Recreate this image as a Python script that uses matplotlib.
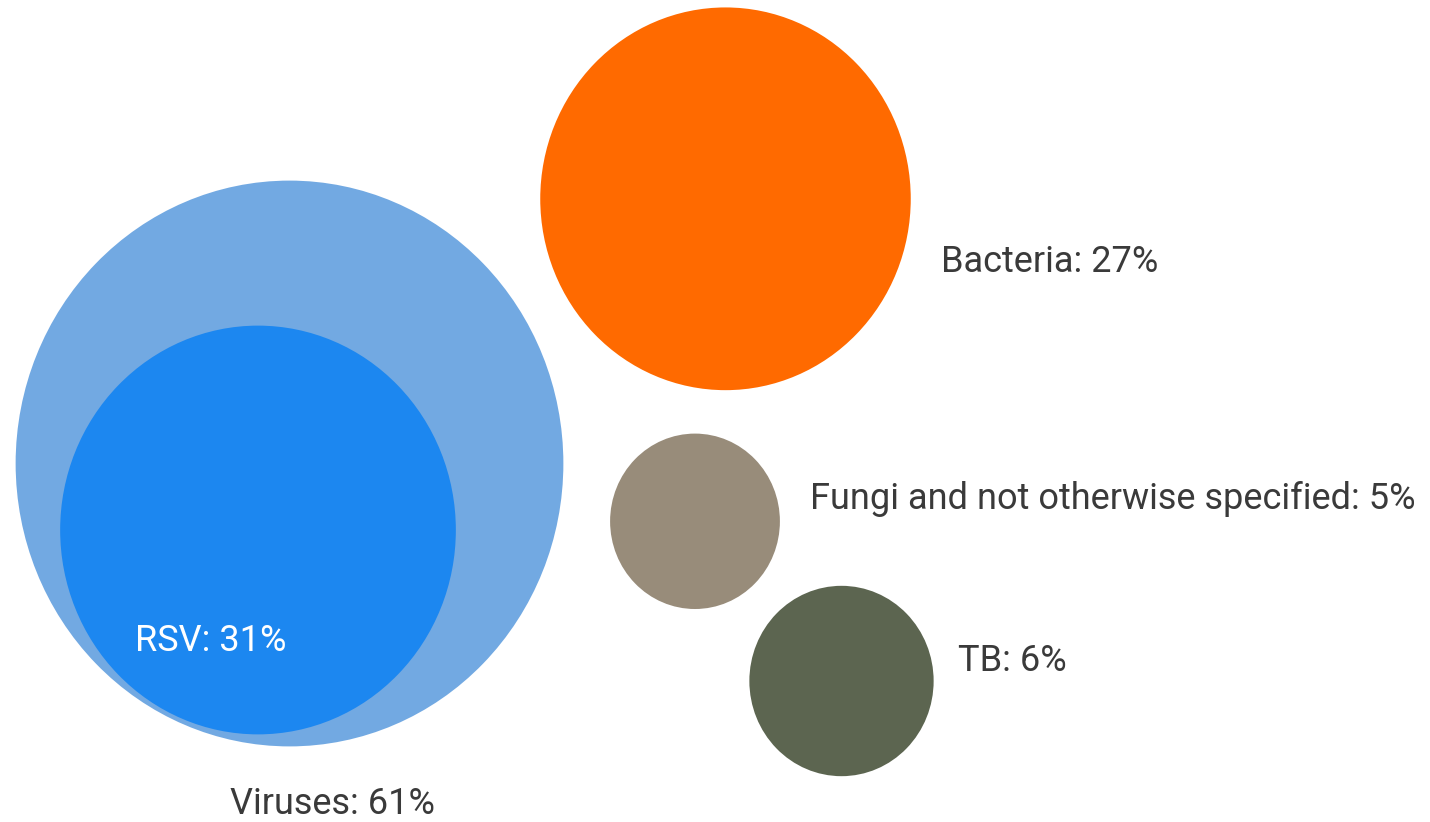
import numpy as np
import matplotlib.pyplot as plt
from matplotlib.patches import Ellipse

# data
groups = ['Viruses', 'RSV', 'Bacteria', 'Fungi and not otherwise specified', 'TB']
shares = [61, 31, 27, 5, 6]

# layout (pixel space of the 1430x822 canvas)
centers_x = [289.5, 258, 725.5, 695, 841.5]
centers_y = [463.5, 530, 198.8, 521.3, 681]
colors = ['#72a9e2', '#1c87f0', '#ff6a00', '#988c7a', '#5c6550']
label_x = [230, 135, 941, 810, 958]
label_y = [814, 651, 272, 509, 671]   # baselines
label_colors = ['#3a3a3a', '#ffffff', '#3a3a3a', '#3a3a3a', '#3a3a3a']

# radius grows with sqrt of the share, plus a small pad
scale, pad = 33.9, 9.1
stretch = 1.033   # the source image is slightly taller than wide

fig = plt.figure(figsize=(14.3, 8.22), dpi=100)
ax = fig.add_axes([0, 0, 1, 1])
ax.set_xlim(0, 1430)
ax.set_ylim(822, 0)
ax.axis('off')

for v, cx, cy, c in zip(shares, centers_x, centers_y, colors):
    r = scale * np.sqrt(v) + pad
    ax.add_patch(Ellipse((cx, cy), 2 * r, 2 * r * stretch, facecolor=c, edgecolor='none'))

for name, v, x, y, tc in zip(groups, shares, label_x, label_y, label_colors):
    ax.text(x, y, f'{name}: {v}%', ha='left', va='baseline', fontsize=26,
            family='Roboto', color=tc)

fig.savefig('out.png', dpi=100)
